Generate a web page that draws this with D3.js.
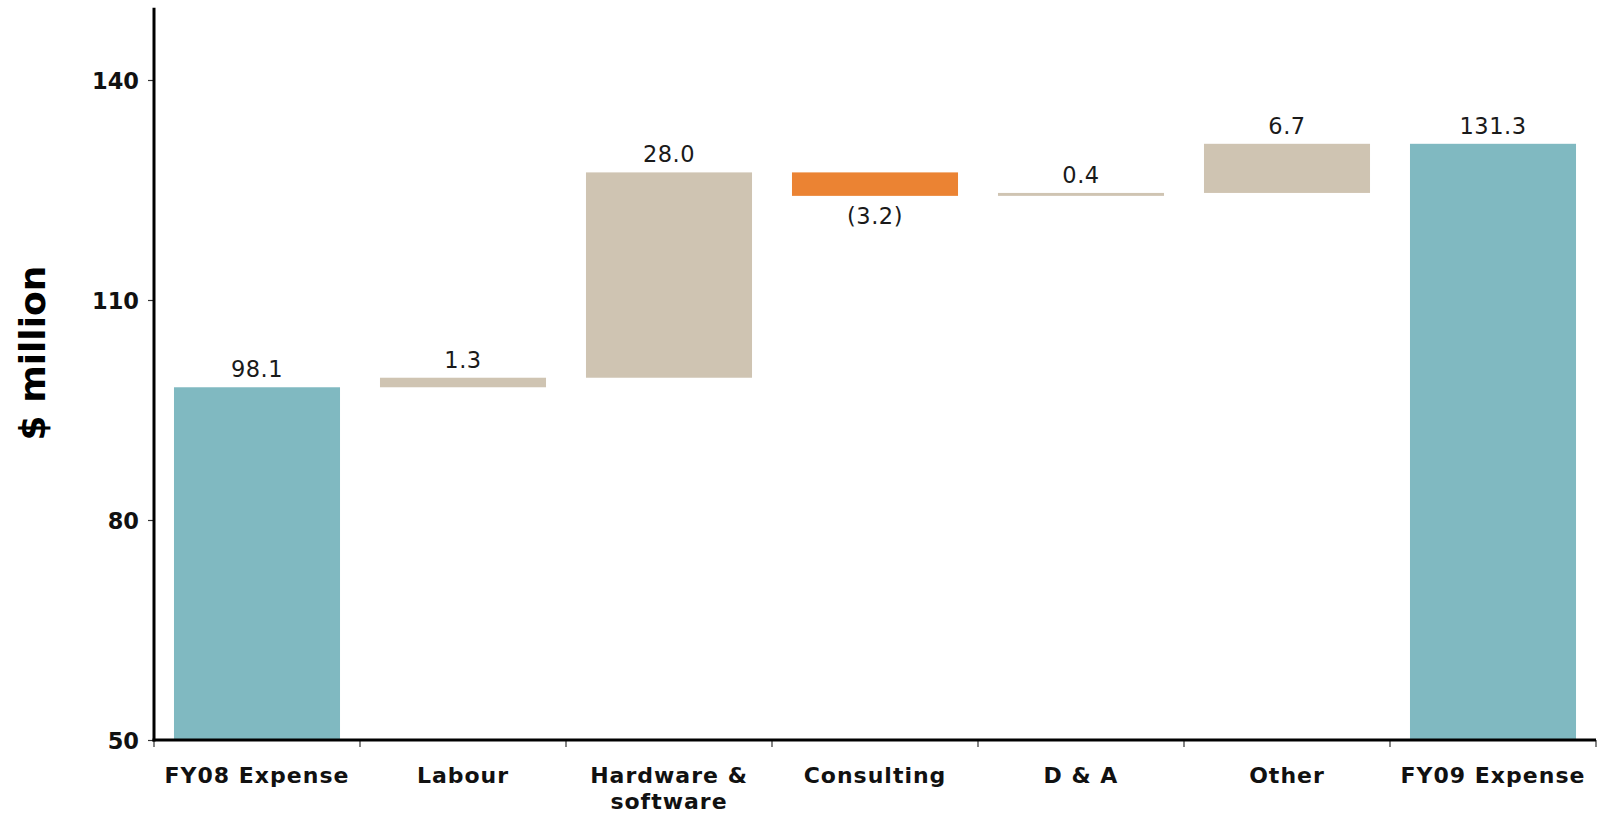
<!DOCTYPE html>
<html>
<head>
<meta charset="utf-8">
<script src="https://cdn.jsdelivr.net/npm/d3@7"></script>
<style>
  html, body { margin: 0; padding: 0; background: #fff; }
  svg { display: block; }
</style>
</head>
<body>
<svg id="chart" width="1603" height="815"></svg>
<script>
// ---- data ----
const categories = ["FY08 Expense", "Labour", "Hardware & software", "Consulting", "D & A", "Other", "FY09 Expense"];
const categoryLines = [["FY08 Expense"], ["Labour"], ["Hardware &", "software"], ["Consulting"], ["D & A"], ["Other"], ["FY09 Expense"]];
const values = [98.1, 1.3, 28.0, -3.2, 0.4, 6.7, 131.3];
const kinds = ["total", "delta", "delta", "delta", "delta", "delta", "total"];
const valueLabels = ["98.1", "1.3", "28.0", "(3.2)", "0.4", "6.7", "131.3"];
const yTicks = [50, 80, 110, 140];
const yDomain = [50, 150];
const yTitle = "$ million";

(function () {
// ---- build waterfall ----
let running = 0;
const bars = categories.map((c, i) => {
  let lo, hi;
  if (kinds[i] === "total") {
    lo = yDomain[0]; hi = values[i]; running = values[i];
  } else {
    const start = running; const end = running + values[i];
    lo = Math.min(start, end); hi = Math.max(start, end); running = end;
  }
  return { cat: c, lo, hi, v: values[i], kind: kinds[i], label: valueLabels[i] };
});

const colors = { total: "#80b9c1", up: "#cfc4b2", down: "#eb8333" };

const svg = d3.select("#chart");
const mLeft = 154, mRight = 1596, mBottom = 740, mTop = 740 - (740 - 80) / 90 * 100;

const x = d3.scaleBand().domain(categories).range([mLeft, mRight])
  .paddingInner(0.194).paddingOuter(0.097);
const y = d3.scaleLinear().domain(yDomain).range([mBottom, mTop]);

// bars
svg.append("g").selectAll("rect").data(bars).join("rect")
  .attr("x", d => x(d.cat))
  .attr("width", x.bandwidth())
  .attr("y", d => y(d.hi))
  .attr("height", d => y(d.lo) - y(d.hi))
  .attr("fill", d => d.kind === "total" ? colors.total : (d.v < 0 ? colors.down : colors.up));

// value labels
svg.append("g").selectAll("text").data(bars).join("text")
  .attr("x", d => x(d.cat) + x.bandwidth() / 2)
  .attr("y", d => d.v < 0 ? y(d.lo) + 28 : y(d.hi) - 10)
  .attr("text-anchor", "middle")
  .attr("font-family", "'DejaVu Sans', Verdana, sans-serif")
  .attr("font-size", 22.5)
  .attr("letter-spacing", 0.5)
  .attr("fill", "#1a1a1a")
  .text(d => d.label);

// y axis
const yAxis = d3.axisLeft(y).tickValues(yTicks).tickSize(6).tickPadding(9).tickFormat(d3.format("d"));
const gy = svg.append("g").attr("transform", `translate(${mLeft},0)`).call(yAxis);
gy.select(".domain").remove();
gy.selectAll(".tick line").attr("stroke", "#333").attr("stroke-width", 1.2);
gy.selectAll(".tick text")
  .attr("font-family", "'DejaVu Sans', Verdana, sans-serif")
  .attr("font-weight", "bold")
  .attr("font-size", 22.5)
  .attr("fill", "#111")
  .attr("dy", "0.36em");
svg.append("line")
  .attr("x1", mLeft).attr("x2", mLeft)
  .attr("y1", mTop + 1).attr("y2", mBottom + 1.5)
  .attr("stroke", "#000").attr("stroke-width", 3);

// x axis
const step = x.step();
const boundaries = categories.map(c => x(c) - step * x.paddingInner() / 2).concat([mRight]);
svg.append("g").selectAll("line").data(boundaries).join("line")
  .attr("x1", d => d).attr("x2", d => d)
  .attr("y1", mBottom).attr("y2", mBottom + 7)
  .attr("stroke", "#333").attr("stroke-width", 1.2);
svg.append("line")
  .attr("x1", mLeft - 1.5).attr("x2", mRight)
  .attr("y1", mBottom).attr("y2", mBottom)
  .attr("stroke", "#000").attr("stroke-width", 3);

const xl = svg.append("g").selectAll("text").data(categories).join("text")
  .attr("x", d => x(d) + x.bandwidth() / 2)
  .attr("y", mBottom + 43)
  .attr("text-anchor", "middle")
  .attr("font-family", "'DejaVu Sans', Verdana, sans-serif")
  .attr("font-weight", "bold")
  .attr("font-size", 22)
  .attr("letter-spacing", 1)
  .attr("fill", "#111");
xl.each(function (d, i) {
  const t = d3.select(this);
  categoryLines[i].forEach((line, j) => {
    t.append("tspan")
      .attr("x", x(d) + x.bandwidth() / 2)
      .attr("dy", j === 0 ? 0 : 26)
      .text(line);
  });
});

// y title
svg.append("text")
  .attr("transform", `translate(45,353) rotate(-90)`)
  .attr("text-anchor", "middle")
  .attr("font-family", "'DejaVu Sans', Verdana, sans-serif")
  .attr("font-weight", "bold")
  .attr("font-size", 36)
  .attr("fill", "#000")
  .text(yTitle);
})();
</script>
</body>
</html>
